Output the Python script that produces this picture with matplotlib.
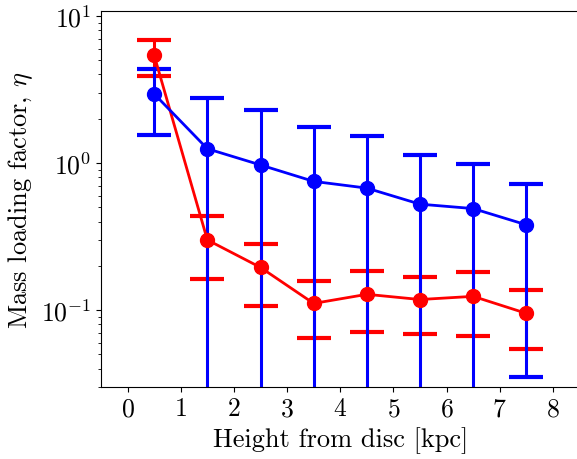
import matplotlib
matplotlib.use("Agg")
import matplotlib.pyplot as plt

plt.rcParams["font.family"] = "serif"
plt.rcParams["font.serif"] = ["cmr10"]
plt.rcParams["mathtext.fontset"] = "cm"
plt.rcParams["axes.formatter.use_mathtext"] = True
plt.rcParams["axes.unicode_minus"] = False

# height bins [kpc]
height = [0.5, 1.5, 2.5, 3.5, 4.5, 5.5, 6.5, 7.5]

# blue series
eta_blue = [2.95, 1.25, 0.97, 0.75, 0.675, 0.525, 0.49, 0.38]
err_blue = [1.4, 1.5, 1.33, 1.0, 0.86, 0.6, 0.5, 0.345]

# red series
eta_red = [5.4, 0.30, 0.195, 0.111, 0.128, 0.118, 0.124, 0.095]
err_red = [1.5, 0.138, 0.088, 0.046, 0.057, 0.049, 0.057, 0.041]

W, H = 577, 460
fig = plt.figure(figsize=(W / 100, H / 100), dpi=100)
ax = fig.add_axes([101 / W, (H - 388) / H, (579.5 - 101) / W, (388 - 12) / H])

style = dict(marker="o", markersize=10, linewidth=2, elinewidth=2.2,
             capsize=12, capthick=3)
ax.errorbar(height, eta_red, yerr=err_red, color="red", **style)
ax.errorbar(height, eta_blue, yerr=err_blue, color="blue", **style)

ax.set_yscale("log")
ax.set_ylim(0.03, 10.8)
ax.set_xlim(-0.5, 8.5)
ax.set_xticks(range(0, 9))
ax.spines["right"].set_visible(False)

ax.tick_params(labelsize=18.5)
ax.set_xlabel("Height from disc [kpc]", fontsize=19)
ax.set_ylabel(r"Mass loading factor, $\eta$", fontsize=19)

fig.savefig("out.png", dpi=100)
